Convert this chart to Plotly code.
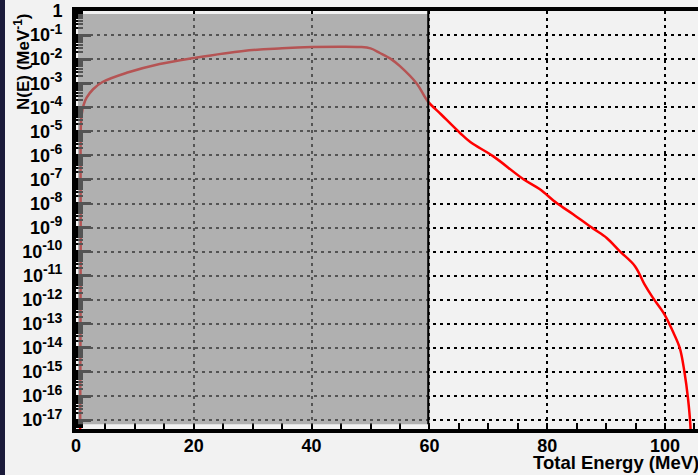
import plotly.graph_objects as go

# ---- data ----
energy_mev = [0.70, 0.80, 0.85, 1.0, 1.3, 1.8, 2.9, 4.5, 8.6, 14.2, 20.0, 28.4, 35.0, 40.0,
              45.0, 48.2, 50.0, 51.6, 53.5, 55.0, 57.9, 59.7, 62.0, 65.2, 67.0, 70.8,
              75.9, 78.7, 81.6, 84.4, 87.7, 90.1, 92.3, 94.9, 96.5, 97.9, 99.9, 101.3,
              102.5, 103.3, 103.9, 104.3, 104.5]
flux_per_mev = [1e-18, 1e-10, 2.5e-5, 5.6e-5, 1.26e-4, 2.5e-4, 5.6e-4, 1.12e-3, 2.7e-3,
                6.3e-3, 1.12e-2, 2.2e-2, 2.8e-2, 3.16e-2, 3.3e-2, 3.2e-2, 2.8e-2, 1.8e-2,
                1.0e-2, 5.1e-3, 9.3e-4, 1.8e-4, 5.0e-5, 8.5e-6, 3.5e-6, 9.3e-7, 1.05e-7,
                4.0e-8, 1.05e-8, 3.6e-9, 9.5e-10, 3.7e-10, 1.05e-10, 2.5e-11, 4.5e-12,
                1.26e-12, 2.5e-13, 5.0e-14, 1.0e-14, 1.0e-15, 8.0e-17, 6.3e-18, 1e-19]

x_tick_vals = [0, 20, 40, 60, 80, 100]
y_exponents = list(range(0, -18, -1))
y_tick_vals = [10.0 ** e for e in y_exponents]
y_tick_text = ["1"] + ["10<sup><span style='font-size:14px'>%d</span></sup>" % e
                       for e in y_exponents[1:]]
y_minor_vals = [k * 10.0 ** e for e in range(-18, 0) for k in range(2, 10)]
shaded_x_max = 60

x_title = "Total Energy (MeV)"
y_title = "N(E) (MeV<sup>-1</sup>)"

# ---- layout geometry ----
W, H = 698, 475
ML, MR, MT, MB = 76, 0, 11, 46
PW, PH = W - ML - MR, H - MT - MB
FONT = "Liberation Sans, Arial, Helvetica, sans-serif"

fig = go.Figure()
fig.add_trace(go.Scatter(x=energy_mev, y=flux_per_mev, mode="lines",
                         line=dict(color="#ff0000", width=2.5, shape="spline",
                                   smoothing=1.0),
                         showlegend=False, hoverinfo="skip"))

grid_common = dict(showgrid=True, gridcolor="black", gridwidth=2, griddash="3px,4px",
                   zeroline=False, automargin=False)

fig.update_xaxes(
    type="linear", range=[0, 105.6], tickmode="array", tickvals=x_tick_vals,
    ticks="inside", ticklen=6, tickwidth=2, tickcolor="black",
    minor=dict(dtick=5, tick0=0, ticks="inside", ticklen=6, tickwidth=2,
               tickcolor="black", showgrid=False),
    showline=True, linecolor="black", linewidth=4, mirror=True,
    tickfont=dict(family=FONT, size=18, color="black", weight="bold"),
    ticklabelstandoff=-3,
    **grid_common)

fig.update_yaxes(
    type="log", range=[-17.37, 0.0], tickmode="array", tickvals=y_tick_vals,
    ticktext=y_tick_text, ticks="inside", ticklen=15, tickwidth=3, tickcolor="black",
    minor=dict(tickmode="array", tickvals=y_minor_vals, ticks="inside", ticklen=7,
               tickwidth=1.5, tickcolor="black", showgrid=False),
    showline=True, linecolor="black", linewidth=4, mirror=False,
    tickfont=dict(family=FONT, size=18, color="black", weight="bold"),
    ticklabelstandoff=6,
    **grid_common)

# semi-transparent gray box over the 0-60 MeV region
fig.add_shape(type="rect", xref="x", yref="y", layer="above",
              x0=0.35, x1=shaded_x_max, y0=10 ** -17.17, y1=10 ** -0.12,
              fillcolor="rgba(136,136,136,0.62)", line=dict(width=0))
fig.add_shape(type="line", xref="x", yref="y", layer="above",
              x0=shaded_x_max - 0.2, x1=shaded_x_max - 0.2, y0=10 ** -17.17, y1=1,
              line=dict(color="black", width=2))

# dark strip at the far left edge of the picture
fig.add_shape(type="rect", xref="paper", yref="paper", layer="below",
              x0=-ML / PW, x1=-(ML - 5) / PW, y0=-MB / PH, y1=1 + MT / PH,
              fillcolor="#1b1b3a", line=dict(width=0))

fig.add_annotation(text=x_title, xref="paper", yref="paper",
                   x=(701 - ML) / PW, y=-(462 - (H - MB)) / PH,
                   xanchor="right", yanchor="middle", showarrow=False,
                   font=dict(family=FONT, size=18.5, color="black", weight="bold"))
fig.add_annotation(text=y_title, xref="paper", yref="paper", textangle=-90,
                   x=(22 - ML) / PW, y=1 - (61 - MT) / PH,
                   xanchor="center", yanchor="middle", showarrow=False,
                   font=dict(family=FONT, size=17, color="black", weight="bold"))

fig.update_layout(width=W, height=H, margin=dict(l=ML, r=MR, t=MT, b=MB, autoexpand=False),
                  paper_bgcolor="#f2f2f2", plot_bgcolor="#f2f2f2",
                  showlegend=False)

fig.write_html("out.html", config={"displayModeBar": False},
               post_script="document.body.style.margin='0';"
                           "document.body.style.overflow='hidden';")
